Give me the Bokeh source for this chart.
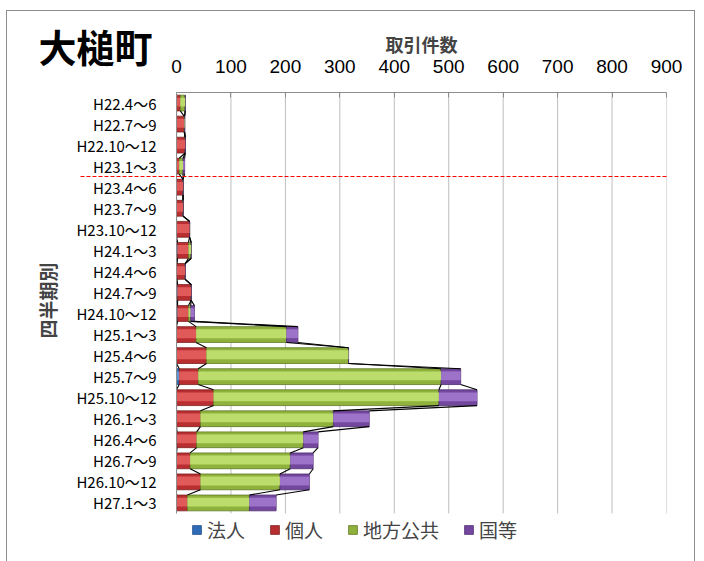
import numpy as np
from bokeh.plotting import figure
from bokeh.models import (Range1d, Legend, LegendItem, Title, LinearAxis,
                          FixedTicker, ColumnDataSource)
from bokeh.transform import dodge
from bokeh.embed import file_html
from bokeh.resources import INLINE

# ---- data ----
quarters = ["H22.4～6", "H22.7～9", "H22.10～12", "H23.1～3", "H23.4～6",
            "H23.7～9", "H23.10～12", "H24.1～3", "H24.4～6", "H24.7～9",
            "H24.10～12", "H25.1～3", "H25.4～6", "H25.7～9", "H25.10～12",
            "H26.1～3", "H26.4～6", "H26.7～9", "H26.10～12", "H27.1～3"]
hojin = [0, 0, 0, 0, 0, 0, 0, 2, 1, 2, 2, 0, 0, 5, 0, 0, 1, 0, 0, 0]
kojin = [7, 14, 16, 5, 12, 12, 24, 20, 15, 25, 20, 36, 55, 35, 68, 44, 36, 25, 44, 20]
chiho = [9, 1, 0, 7, 0, 0, 0, 5, 0, 0, 4, 166, 261, 446, 414, 244, 196, 184, 146, 114]
kuni = [0, 0, 0, 3, 0, 0, 0, 0, 0, 0, 7, 21, 0, 36, 70, 66, 27, 42, 54, 49]
series_names = ["法人", "個人", "地方公共", "国等"]
x_ticks = [0, 100, 200, 300, 400, 500, 600, 700, 800, 900]
marker_quarter = "H23.4～6"   # dashed line drawn just above this quarter

# ---- styles ----
base_colors = ["#2f6cb8", "#b92f31", "#8fb23c", "#74479f"]
light_colors = ["#5d95dc", "#e05a5a", "#bcdc6c", "#9d72c9"]
edge_colors = ["#1f4d88", "#7e1f20", "#5f7a25", "#4e2f70"]
CJK = "Noto Sans CJK JP"

n = len(quarters)
ypos = [n - 1 - i for i in range(n)]          # top row has the largest y
src = ColumnDataSource(dict(y=ypos, **{nm: v for nm, v in zip(series_names, [hojin, kojin, chiho, kuni])}))

p = figure(width=687, height=550, title=None,
           y_range=Range1d(-2.07, n - 0.5),
           x_range=Range1d(0, 900),
           x_axis_location="above",
           output_backend="svg", toolbar_location=None,
           min_border_left=169, min_border_right=28,
           min_border_top=81, min_border_bottom=15,
           background_fill_color="white", border_fill_color="white",
           outline_line_color=None)
p.styles = {"margin-left": "7px", "margin-top": "11px",
            "outline": "1px solid #8c8c8c", "outline-offset": "0px"}

# vertical grid lines, only over the rows
p.segment(x0=x_ticks, y0=[-0.5] * len(x_ticks), x1=x_ticks, y1=[n - 0.5] * len(x_ticks),
          line_color="#bdbdbd", line_width=1, level="underlay")
p.xgrid.grid_line_color = None
p.ygrid.grid_line_color = None

bar_h = 0.75
base = p.hbar_stack(series_names, y="y", height=bar_h, color=base_colors,
                    line_color=edge_colors, line_width=0.8, source=src)
p.hbar_stack(series_names, y=dodge("y", 0.04), height=0.42,
             color=light_colors, line_color=None, source=src)

# series lines connecting cumulative ends of neighbouring bars
vals = np.array([hojin, kojin, chiho, kuni], dtype=float)
cum = np.cumsum(vals, axis=0)
hh = bar_h / 2
x0s, y0s, x1s, y1s = [], [], [], []
for k in range(4):
    for i in range(n - 1):
        x0s.append(cum[k][i]); y0s.append(ypos[i] - hh)
        x1s.append(cum[k][i + 1]); y1s.append(ypos[i + 1] + hh)
p.segment(x0s, y0s, x1s, y1s, line_color="black", line_width=1.1)

# top axis
xa = p.xaxis[0]
xa.ticker = FixedTicker(ticks=x_ticks)
xa.axis_label = "取引件数"
xa.axis_label_text_font = CJK
xa.axis_label_text_font_style = "bold"
xa.axis_label_text_font_size = "18px"
xa.axis_label_standoff = 0
xa.major_label_text_font = "Liberation Sans"
xa.major_label_text_font_size = "19px"
xa.major_label_text_color = "black"
xa.major_label_standoff = 20
xa.axis_line_color = "#8c8c8c"
xa.major_tick_in = 5
xa.major_tick_out = 0
xa.major_tick_line_color = "#8c8c8c"
xa.minor_tick_line_color = None

# left axis with quarter labels
ya = p.yaxis[0]
ya.ticker = FixedTicker(ticks=ypos)
ya.major_label_overrides = {y: q for y, q in zip(ypos, quarters)}
ya.bounds = (-0.5, n - 0.5)
ya.axis_label = "　　四半期別"
ya.axis_label_text_font = CJK
ya.axis_label_text_font_style = "bold"
ya.axis_label_text_font_size = "19px"
ya.axis_label_standoff = 12
ya.major_label_text_font = CJK
ya.major_label_text_font_size = "15px"
ya.major_label_text_color = "black"
ya.major_label_standoff = 14
ya.axis_line_color = "#8c8c8c"
ya.major_tick_line_color = None
ya.minor_tick_line_color = None

# red dashed marker line between two quarters, reaching into the label area
yb = ypos[quarters.index(marker_quarter)] + 0.5
ra = LinearAxis(ticker=FixedTicker(ticks=[yb]), axis_line_color=None,
                major_tick_in=586, major_tick_out=0,
                major_tick_line_color="red", major_tick_line_dash="4 2",
                major_tick_line_width=1.2, minor_tick_line_color=None,
                major_label_overrides={yb: ""})
p.add_layout(ra, "right")

# big title at the top left
p.add_layout(Title(text="大槌町", align="left", offset=-138, vertical_align="bottom",
                   standoff=-90, text_font=CJK, text_font_size="38px",
                   text_font_style="bold", text_color="black"), "above")

legend = Legend(items=[LegendItem(label=nm, renderers=[r]) for nm, r in zip(series_names, base)],
                orientation="horizontal", location=(15, 3),
                label_text_font=CJK, label_text_font_size="19px",
                glyph_width=11, glyph_height=11, label_standoff=5, spacing=24,
                padding=2, margin=0, border_line_color=None, background_fill_alpha=0)
p.add_layout(legend)

open("out.html", "w").write(file_html(p, INLINE))
